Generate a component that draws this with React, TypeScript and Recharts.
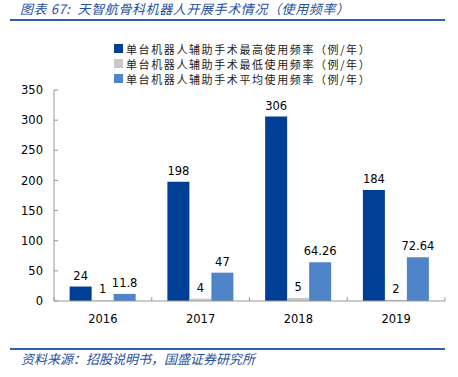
import { Bar, BarChart, LabelList, Legend, XAxis, YAxis } from 'recharts';

const years = ['2016', '2017', '2018', '2019'];
const maxUse = [24, 198, 306, 184];
const minUse = [1, 4, 5, 2];
const avgUse = [11.8, 47, 64.26, 72.64];
const yTicks = [0, 50, 100, 150, 200, 250, 300, 350];

const seriesKeys = ['max', 'min', 'avg'];
const seriesNames = {
  max: '单台机器人辅助手术最高使用频率（例/年）',
  min: '单台机器人辅助手术最低使用频率（例/年）',
  avg: '单台机器人辅助手术平均使用频率（例/年）',
};

const data = years.map((year, i) => ({ year, max: maxUse[i], min: minUse[i], avg: avgUse[i] }));

const W = 458;
const H = 377;
const PLOT_LEFT = 54;
const PLOT_RIGHT = 445;
const BAND = (PLOT_RIGHT - PLOT_LEFT) / years.length;
const BLUE_TEXT = '#1f4f9f';
const LINE_BLUE = '#2e61ab';
const FONT = '"DejaVu Sans", Tahoma, sans-serif';
const CJK = '"Noto Sans CJK SC", sans-serif';

const YearTick = (props: any) => {
  const { x, y, payload, index } = props;
  return (
    <g>
      <line x1={x - BAND / 2} x2={x - BAND / 2} y1={y - 4} y2={y} stroke="#999" />
      {index === years.length - 1 && <line x1={x + BAND / 2} x2={x + BAND / 2} y1={y - 4} y2={y} stroke="#999" />}
      <text x={x} y={y + 22} textAnchor="middle" fontSize={11.5} fill="#000" fontFamily={FONT}>
        {payload.value}
      </text>
    </g>
  );
};

const LegendBox = ({ payload }: any) => {
  const items = [...(payload || [])].sort((a: any, b: any) => seriesKeys.indexOf(a.dataKey) - seriesKeys.indexOf(b.dataKey));
  return (
    <div>
      {items.map((p: any) => (
        <div key={p.value} style={{ display: 'flex', alignItems: 'center', height: 15, fontFamily: CJK, fontSize: 11, letterSpacing: 1.6, color: '#222' }}>
          <span style={{ width: 9, height: 9, background: p.color, marginRight: 3, display: 'inline-block' }} />
          {p.value}
        </div>
      ))}
    </div>
  );
};

export default function App() {
  return (
    <div style={{ position: 'absolute', left: 0, top: 0, width: W, height: H, background: '#fff' }}>
      <div style={{ position: 'absolute', left: 20, top: -1, fontFamily: CJK, fontStyle: 'italic', fontSize: 13, letterSpacing: 0.6, color: BLUE_TEXT, whiteSpace: 'pre' }}>
        图表 67:  天智航骨科机器人开展手术情况（使用频率）
      </div>
      <div style={{ position: 'absolute', left: 10, top: 19, width: 435, height: 2, background: LINE_BLUE }} />
      <BarChart width={W} height={H} data={data} margin={{ top: 90, right: 13, left: 14, bottom: 46 }} barCategoryGap="16%" barGap={0}>
        <XAxis dataKey="year" stroke="#999" tickLine={false} tickSize={0} tickMargin={0} tick={<YearTick />} height={30} interval={0} />
        <YAxis
          domain={[0, 350]}
          ticks={yTicks}
          width={40}
          stroke="#999"
          tickSize={-4}
          tickMargin={15}
          tick={{ fontSize: 11.5, fill: '#000', fontFamily: FONT }}
          interval={0}
        />
        <Legend
          layout="horizontal"
          verticalAlign="middle"
          align="center"
          content={<LegendBox />}
          wrapperStyle={{ top: 41, left: 114, width: 300, height: 50 }}
        />
        <Bar dataKey="max" name={seriesNames.max} fill="#003f96" isAnimationActive={false}>
          <LabelList dataKey="max" position="top" offset={7} fontSize={11.5} fill="#000" fontFamily={FONT} />
        </Bar>
        <Bar dataKey="min" name={seriesNames.min} fill="#c9c9c9" isAnimationActive={false}>
          <LabelList dataKey="min" position="top" offset={7} fontSize={11.5} fill="#000" fontFamily={FONT} />
        </Bar>
        <Bar dataKey="avg" name={seriesNames.avg} fill="#5084c8" isAnimationActive={false}>
          <LabelList dataKey="avg" position="top" offset={7} fontSize={11.5} fill="#000" fontFamily={FONT} />
        </Bar>
      </BarChart>
      <div style={{ position: 'absolute', left: 10, top: 348, width: 435, height: 2, background: LINE_BLUE }} />
      <div style={{ position: 'absolute', left: 21, top: 349, fontFamily: CJK, fontStyle: 'italic', fontSize: 13, color: BLUE_TEXT, whiteSpace: 'nowrap' }}>
        资料来源：招股说明书，国盛证券研究所
      </div>
    </div>
  );
}
